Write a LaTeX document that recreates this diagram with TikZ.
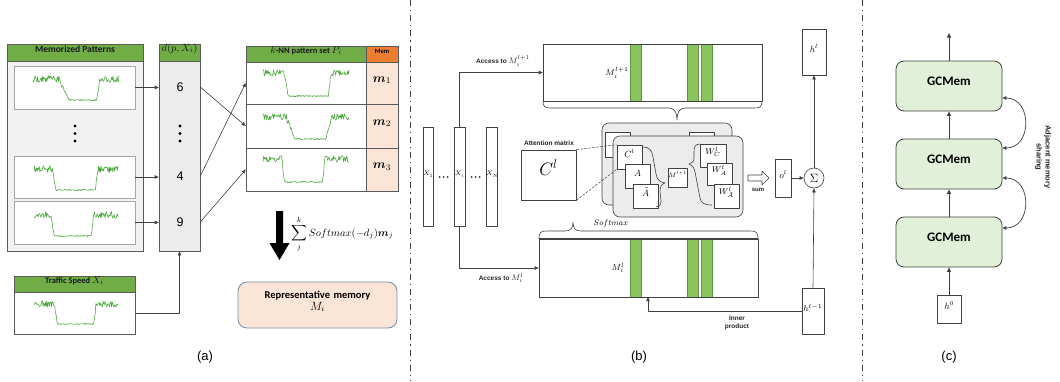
\RequirePackage{fix-cm}
\documentclass[tikz,border=0pt]{standalone}
\usepackage{amsmath}
\usepackage{bm}
\usepackage{fontspec}
\setmainfont{Carlito}
\newfontfamily\arialf{Liberation Sans}
\usetikzlibrary{calc,fit,arrows.meta}

\definecolor{hdrgreen}{RGB}{112,173,71}
\definecolor{tgreen}{RGB}{70,165,55}
\definecolor{panelgray}{RGB}{242,242,242}
\definecolor{dcolgray}{RGB}{236,236,236}
\definecolor{memorange}{RGB}{237,125,49}
\definecolor{peach}{RGB}{251,229,214}
\definecolor{bargreen}{RGB}{137,196,92}
\definecolor{gcgreen}{RGB}{226,240,217}
\definecolor{linegray}{RGB}{64,64,64}
\definecolor{bordergray}{RGB}{90,90,90}
\definecolor{pbgray}{RGB}{166,166,166}
\definecolor{repborder}{RGB}{125,145,175}
\definecolor{fpgray}{RGB}{236,236,236}

\newcommand{\tcurve}[8]{%
  \draw[tgreen, line width=0.55pt, line join=round] plot[domain=0:1, samples=130]
   ({#1+#3*\x},
    {#2+#4*(min(max((\x-#5)/(#6-#5),0),1)-min(max((\x-#7)/(#8-#7),0),1))
      +(0.6+2.8*(1-min(max((\x-#5)/(#6-#5),0),1)+min(max((\x-#7)/(#8-#7),0),1)))*rand});
}

\begin{document}
\begin{tikzpicture}[x=1pt,y=-1pt, line join=round,
  bx/.style={draw=linegray, inner sep=0pt, line width=0.6pt},
  arr/.style={-{Triangle[length=4pt,width=3.4pt]}, linegray, line width=0.6pt},
  arrc/.style={-{Triangle[length=4.5pt,width=4pt]}, linegray, line width=0.9pt},
  hdr/.style={draw=bordergray, fill=hdrgreen, inner sep=0pt, line width=0.6pt, text=black!90},
  pat/.style={draw=pbgray, fill=white, inner sep=0pt, line width=0.6pt},
  lab/.style={font=\arialf\fontsize{13}{15}\selectfont},
  blab/.style={font=\arialf\bfseries\fontsize{6.5}{7.5}\selectfont, text=black!85},
  gc/.style={draw=linegray, fill=gcgreen, rounded corners=8pt, inner sep=0pt, line width=0.8pt,
     font=\bfseries\fontsize{13}{15}\selectfont},
  divider/.style={linegray, line width=0.9pt, dash pattern=on 6pt off 4pt on 1.2pt off 4pt}
]
\pgfmathsetseed{12}
\useasboundingbox (0,0) rectangle (1060,381);
\fill[white] (0,0) rectangle (1060,381);

%%%%%%%%%%%%%%%% Panel (a)
\node[draw=bordergray, fill=panelgray, inner sep=0pt, line width=0.6pt, fit={(7,44) (143,251)}] (mp) {};
\node[hdr, fit={(7,44) (143,61)}, font=\bfseries\fontsize{9.5}{11}\selectfont] (mph) {Memorized Patterns};
\node[pat, fit={(14,66) (135,109)}] (p1) {};
\node[pat, fit={(14,156) (135,198)}] (p2) {};
\node[pat, fit={(14,201) (135,244)}] (p3) {};
\foreach \yy in {126,133.5,141} \fill[black] (75,\yy) circle (1.7);

\node[draw=bordergray, fill=dcolgray, inner sep=0pt, line width=0.6pt, fit={(159,44) (200,251)}] (dcol) {};
\node[hdr, fit={(159,44) (200,61)}, font=\fontsize{10.5}{11}\selectfont] (dh) {$d(p,X_i)$};
\node[font=\arialf\fontsize{12.5}{14}\selectfont] (n6) at (180,87) {6};
\node[font=\arialf\fontsize{12.5}{14}\selectfont] (n4) at (180,176) {4};
\node[font=\arialf\fontsize{12.5}{14}\selectfont] (n9) at (180,222) {9};
\foreach \yy in {126,133.5,141} \fill[black] (180,\yy) circle (1.6);

\draw[arr] (p1.east) -- (p1.east -| dcol.west);
\draw[arr] (p2.east) -- (p2.east -| dcol.west);
\draw[arr] (p3.east) -- (p3.east -| dcol.west);

\node[draw=bordergray, fill=white, inner sep=0pt, line width=0.6pt, fit={(14,292) (135,334)}] (tsb) {};
\node[hdr, fit={(14,276) (135,292)}, font=\bfseries\fontsize{8.5}{10}\selectfont] (tsh) {Traffic Speed {\fontsize{10}{11}\selectfont$X_i$}};
\draw[arr] (tsb.east) -| (dcol.south);

% k-NN table
\node[hdr, fit={(246,46) (366,62)}, font=\bfseries\fontsize{8.5}{10}\selectfont] (knnh) {{\fontsize{10}{11}\selectfont$k$}-NN pattern set {\fontsize{10}{11}\selectfont$P_i$}};
\node[draw=bordergray, fill=memorange, inner sep=0pt, line width=0.6pt, fit={(366,46) (398,62)}, font=\bfseries\fontsize{6.5}{7}\selectfont] (memh) {Mem};
\node[draw=bordergray, fill=white, inner sep=0pt, line width=0.6pt, fit={(246,62) (366,104)}] (r1) {};
\node[draw=bordergray, fill=white, inner sep=0pt, line width=0.6pt, fit={(246,104) (366,148)}] (r2) {};
\node[draw=bordergray, fill=white, inner sep=0pt, line width=0.6pt, fit={(246,148) (366,191)}] (r3) {};
\node[draw=bordergray, fill=peach, inner sep=0pt, line width=0.6pt, fit={(366,62) (398,104)}, font=\fontsize{12.5}{13}\selectfont] (m1) {$\bm{m}_1$};
\node[draw=bordergray, fill=peach, inner sep=0pt, line width=0.6pt, fit={(366,104) (398,148)}, font=\fontsize{12.5}{13}\selectfont] (m2) {$\bm{m}_2$};
\node[draw=bordergray, fill=peach, inner sep=0pt, line width=0.6pt, fit={(366,148) (398,191)}, font=\fontsize{12.5}{13}\selectfont] (m3) {$\bm{m}_3$};

\draw[arr] (n6 -| dcol.east) -- (r2.west);
\draw[arr] (n4 -| dcol.east) -- (r1.west);
\draw[arr] (n9 -| dcol.east) -- (r3.west);

% traffic curves
\tcurve{33}{79}{86}{21}{0.30}{0.42}{0.74}{0.78}
\tcurve{34}{169}{84}{21}{0.22}{0.26}{0.73}{0.76}
\tcurve{34}{215}{84}{21}{0.20}{0.24}{0.68}{0.71}
\tcurve{34}{304}{84}{20}{0.24}{0.28}{0.71}{0.74}
\tcurve{263}{73}{86}{23}{0.25}{0.29}{0.76}{0.79}
\tcurve{263}{117}{86}{22}{0.27}{0.37}{0.73}{0.80}
\tcurve{263}{159}{86}{23}{0.22}{0.25}{0.69}{0.72}

% big arrow
\fill[black] (276,211) -- (283,211) -- (283,243) -- (289.5,243) -- (279.5,260) -- (269.5,243) -- (276,243) -- cycle;
\node[font=\fontsize{10.5}{11}\selectfont, anchor=west, inner sep=0pt] (form) at (291,234) {$\displaystyle\sum_{j}^{k} Softmax(-d_j)\bm{m}_j$};

\node[draw=repborder, fill=peach, rounded corners=9pt, inner sep=0pt, line width=0.9pt, fit={(238,282) (397,328)},
  align=center, font=\bfseries\fontsize{10.5}{12}\selectfont] (rep) {Representative memory\\[0pt] \mdseries\fontsize{12}{13}\selectfont$M_i$};

\node[lab] (la) at (205,357) {(a)};

%%%%%%%%%%%%%%%% Panel (b)
\node[bx, fit={(423,127) (433,226)}, font=\fontsize{6.5}{7}\selectfont] (x1) {$X_1$};
\node[bx, fit={(454,127) (465,226)}, font=\fontsize{6.5}{7}\selectfont] (xi) {$X_i$};
\node[bx, fit={(486,127) (497,226)}, font=\fontsize{6.5}{7}\selectfont] (xN) {$X_N$};
\foreach \xx in {439.5,443.5,447.5,471.5,475.5,479.5} \fill[black!80] (\xx,177) circle (1);

% upper memory
\foreach \a/\b in {630/641,687/698,701/712} \draw[bargreen!75!black, fill=bargreen, line width=0.4pt] (\a,44) rectangle (\b,101);
\node[bx, fit={(543,44) (762,101)}] (um) {};
\draw[linegray, line width=1.1pt] (um.south west) -- (um.south east);
\node[font=\fontsize{8.5}{9}\selectfont] (uml) at (617,73) {$M_i^{l+1}$};
\draw[linegray, line width=0.6pt] (543,101) .. controls (543,107) and (545,108) .. (551,108) -- (669,108)
   .. controls (675,108) and (677,113) .. (677,120) .. controls (677,113) and (679,108) .. (685,108)
   -- (754,108) .. controls (760,108) and (762,107) .. (762,101);

% lower memory
\foreach \a/\b in {630/641,687/698,701/712} \draw[bargreen!75!black, fill=bargreen, line width=0.4pt] (\a,239) rectangle (\b,297);
\node[bx, fit={(539,239) (758,297)}] (lm) {};
\draw[linegray, line width=1.1pt] (lm.north west) -- (lm.north east);
\node[font=\fontsize{8.5}{9}\selectfont] (lml) at (618,268) {$M_i^{l}$};
\draw[linegray, line width=0.6pt] (539,239) .. controls (539,232) and (541,231) .. (547,231) -- (565,231)
   .. controls (571,231) and (573,228) .. (573,222) .. controls (573,228) and (575,231) .. (581,231)
   -- (750,231) .. controls (756,231) and (758,232) .. (758,239);
\node[font=\fontsize{8}{9}\selectfont] (smx) at (611,223) {$Softmax$};

\draw[arr] (xi.north) |- (um.west);
\node[blab] (acc1) at (503,61) {Access to {\fontsize{8}{9}\selectfont$M_i^{l+1}$}};
\draw[arr] (xi.south) |- (lm.west);
\node[blab] (acc2) at (501,278) {Access to {\fontsize{8}{9}\selectfont$M_i^{l}$}};

% attention matrix
\node[blab] (attl) at (549,143) {Attention matrix};
\node[bx, fit={(521,150) (576,200)}, font=\fontsize{18}{20}\selectfont] (att) {$C^l$};

% back and front panels
\node[bx, fill=fpgray, rounded corners=7pt, fit={(602,123) (732,205)}] (bp) {};
\node[bx, fill=white, fit={(605,132) (630,157)}] (pk1) {};
\node[bx, fill=white, fit={(689,132) (714,150)}] (pk2) {};
\node[bx, fill=fpgray, rounded corners=7pt, fit={(613,136) (743,217)}] (fp) {};

\node[bx, fill=white, fit={(617,145) (642,169)}, font=\fontsize{9}{10}\selectfont] (cl) {$C^l$};
\node[bx, fill=white, fit={(625,164) (650,188)}, font=\fontsize{9}{10}\selectfont] (aa) {$A$};
\node[bx, fill=white, fit={(633,184) (658,208)}, font=\fontsize{9}{10}\selectfont] (atl) {$\tilde{A}$};
\draw[linegray, dash pattern=on 2.5pt off 1.5pt, line width=0.5pt] (att.north east) -- (cl.north west);
\draw[linegray, dash pattern=on 2.5pt off 1.5pt, line width=0.5pt] (att.south east) -- (cl.south west);

\draw[linegray, line width=0.6pt] (643,147) .. controls (649,147) and (652,150) .. (653,157) -- (656,174)
   .. controls (657,180) and (660,182) .. (665,183) .. controls (661,184) and (660,187) .. (660,192)
   -- (661,201) .. controls (661,205) and (659,207) .. (656,207);

\node[bx, fill=white, fit={(668,168) (687,187)}, font=\fontsize{6.5}{7}\selectfont] (mm) {$M^{l+1}$};

\draw[linegray, line width=0.6pt] (700,144) .. controls (695,144) and (694,147) .. (694,152) -- (694,158)
   .. controls (694,162) and (692,163) .. (689,164) .. controls (692,165) and (694,167) .. (695,172)
   -- (700,198) .. controls (701,203) and (704,205) .. (712,205);

\node[bx, fill=white, fit={(700,144) (726,167)}, font=\fontsize{8.5}{9}\selectfont] (wc) {$W_C^l$};
\node[bx, fill=white, fit={(707,163) (732,185)}, font=\fontsize{8.5}{9}\selectfont] (wa) {$W_A^l$};
\node[bx, fill=white, fit={(714,184) (739,208)}, font=\fontsize{8.5}{9}\selectfont] (wat) {$W_{\tilde{A}}^l$};

% sum arrow
\draw[linegray, fill=white, line width=0.6pt] (748,175) -- (762,175) -- (762,171) -- (769,178) -- (762,185) -- (762,181) -- (748,181) -- cycle;
\node[font=\arialf\bfseries\fontsize{6}{6.5}\selectfont, text=black!85] (suml) at (758,190) {sum};

\node[bx, fit={(775,159) (791,197)}, font=\fontsize{9}{10}\selectfont] (ol) {$o^l$};
\node[draw=linegray, line width=0.6pt, circle, minimum size=20pt, inner sep=0pt, font=\fontsize{12}{13}\selectfont] (sig) at (814,178) {$\Sigma$};
\node[bx, fit={(802,288) (824,334)}, font=\fontsize{8.5}{9}\selectfont] (hm) {$h^{l-1}$};
\node[bx, fit={(802,29) (826,75)}, font=\fontsize{9}{10}\selectfont] (hl) {$h^l$};
\draw[arr] (ol.east) -- (sig.west);
\draw[arr] (hm.north) -- (sig.south);
\draw[arr] (sig.north) -- (hl.south);
\coordinate (ip) at (648,297);
\draw[arr] (hm.west) -| (ip);
\node[blab, align=center] (ipl) at (737,323) {Inner\\product};

\node[lab] (lb) at (639,357) {(b)};

%%%%%%%%%%%%%%%% Panel (c)
\node[gc, fit={(896,61) (1002,111)}] (gc1) {GCMem};
\node[gc, fit={(896,139) (1002,189)}] (gc2) {GCMem};
\node[gc, fit={(896,217) (1002,267)}] (gc3) {GCMem};
\node[bx, fit={(937,295) (961,323)}, font=\fontsize{9}{10}\selectfont] (h0) {$h^0$};
\coordinate (ctop) at (949,33);
\draw[arrc] (gc1.north) -- (ctop);
\draw[arrc] (gc2.north) -- (gc1.south);
\draw[arrc] (gc3.north) -- (gc2.south);
\draw[arrc] (h0.north) -- (gc3.south);
\draw[{Triangle[length=4pt,width=3.6pt]}-{Triangle[length=4pt,width=3.6pt]}, linegray, line width=0.7pt]
  ([yshift=-12pt]gc1.east) .. controls +(30,0) and +(30,0) .. ([yshift=16pt]gc2.east);
\draw[{Triangle[length=4pt,width=3.6pt]}-{Triangle[length=4pt,width=3.6pt]}, linegray, line width=0.7pt]
  ([yshift=-14pt]gc2.east) .. controls +(30,0) and +(30,0) .. ([yshift=14pt]gc3.east);
\node[rotate=-90, align=center, font=\arialf\bfseries\fontsize{7.5}{9}\selectfont, text=black!85] (ams) at (1043,157) {Adjacent memory\\sharing};

\node[lab] (lc) at (949,357) {(c)};

% dividers
\draw[divider] (410,0) -- (410,381);
\draw[divider] (862,0) -- (862,381);
\end{tikzpicture}
\end{document}
